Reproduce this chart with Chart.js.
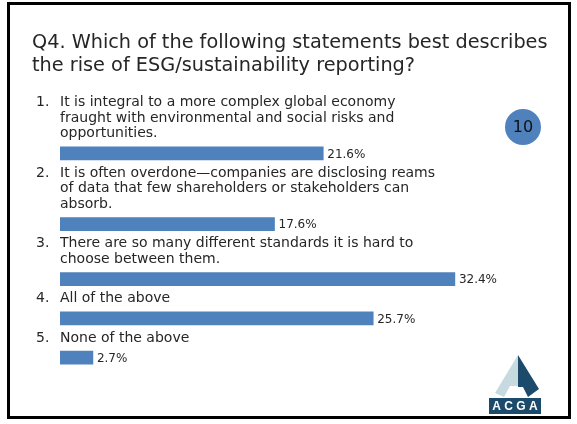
<!DOCTYPE html>
<html>
<head>
<meta charset="utf-8">
<script src="https://cdn.jsdelivr.net/npm/chart.js"></script>
<style>
  html, body { margin: 0; padding: 0; background: #fff; }
  #wrap { width: 577px; height: 424px; }
</style>
</head>
<body>
<div id="wrap"><canvas id="esgChart" width="577" height="424"></canvas></div>
<script>
(function(){
  const question = ['Q4. Which of the following statements best describes', 'the rise of ESG/sustainability reporting?'];
  const answers = [
    ['It is integral to a more complex global economy', 'fraught with environmental and social risks and', 'opportunities.'],
    ['It is often overdone\u2014companies are disclosing reams', 'of data that few shareholders or stakeholders can', 'absorb.'],
    ['There are so many different standards it is hard to', 'choose between them.'],
    ['All of the above'],
    ['None of the above']
  ];
  const shares = [21.6, 17.6, 32.4, 25.7, 2.7];
  const respondents = '10';

  const blue = '#4F81BD';
  const navy = '#1B4A6B';
  const ink = '#262626';
  const face = '"DejaVu Sans", sans-serif';

  // every answer gets one row per text line, then its bar a little below
  const GAP = 1.25;
  const rows = [];
  let pos = 0;
  answers.forEach(lines => {
    rows.push({ first: pos, bar: pos + lines.length - 1 + GAP });
    pos += lines.length - 1 + 2 * GAP;
  });
  const points = shares.map((v, i) => ({ x: v, y: rows[i].bar }));

  const slide = {
    id: 'slide',
    afterDatasetsDraw(chart){
      const ctx = chart.ctx, y = chart.scales.y, area = chart.chartArea;
      const bars = chart.getDatasetMeta(0).data;
      ctx.save();
      ctx.fillStyle = ink;
      ctx.textBaseline = 'middle';
      ctx.textAlign = 'left';
      answers.forEach((lines, i) => {
        ctx.font = '14px ' + face;
        ctx.fillText((i + 1) + '.', area.left - 24, y.getPixelForValue(rows[i].first));
        lines.forEach((t, k) => ctx.fillText(t, area.left, y.getPixelForValue(rows[i].first + k)));
        const b = bars[i];
        ctx.font = '12px ' + face;
        ctx.fillText(shares[i].toFixed(1) + '%', b.x + 4, b.y + 1);
      });

      // respondent count badge
      ctx.fillStyle = blue;
      ctx.beginPath();
      ctx.arc(523, 127, 18, 0, Math.PI * 2);
      ctx.fill();
      ctx.fillStyle = '#111';
      ctx.textAlign = 'center';
      ctx.font = '16px ' + face;
      ctx.fillText(respondents, 523, 128);
      ctx.restore();
    },
    afterDraw(chart){
      const ctx = chart.ctx;
      ctx.save();
      // slide frame
      ctx.strokeStyle = '#000';
      ctx.lineWidth = 3;
      ctx.strokeRect(8.5, 3.5, 561, 414);

      // ACGA logo: light left face, dark right face, name plate
      ctx.fillStyle = '#C7DADF';
      ctx.beginPath();
      ctx.moveTo(518, 355); ctx.lineTo(495, 393); ctx.lineTo(504, 397);
      ctx.lineTo(510, 386); ctx.lineTo(518, 386);
      ctx.closePath(); ctx.fill();
      ctx.fillStyle = navy;
      ctx.beginPath();
      ctx.moveTo(518, 355); ctx.lineTo(539, 389); ctx.lineTo(528, 397);
      ctx.lineTo(523, 387); ctx.lineTo(518, 387);
      ctx.closePath(); ctx.fill();
      ctx.fillRect(489, 398, 52, 16);
      ctx.fillStyle = '#fff';
      ctx.font = 'bold 12px "Liberation Sans", Arial, sans-serif';
      ctx.textAlign = 'center';
      ctx.textBaseline = 'middle';
      ctx.fillText('A C G A', 515, 406.5);
      ctx.restore();
    }
  };

  new Chart(document.getElementById('esgChart'), {
    type: 'bar',
    data: {
      datasets: [{
        data: points,
        backgroundColor: blue,
        barThickness: 13,
        borderWidth: 0
      }]
    },
    options: {
      indexAxis: 'y',
      responsive: false,
      animation: false,
      layout: { padding: { left: 32, right: 29.5, top: 0, bottom: 31 } },
      plugins: {
        legend: { display: false },
        tooltip: { enabled: false },
        title: {
          display: true,
          text: question,
          align: 'start',
          color: ink,
          font: { family: face, size: 19.3, weight: 'normal', lineHeight: 1.2 },
          padding: { top: 31, bottom: 1.5 }
        }
      },
      scales: {
        x: { type: 'linear', min: 0, max: 40, display: false },
        y: {
          type: 'linear', reverse: true, min: -1.5, max: 18.5, offset: false,
          ticks: { display: false }, grid: { display: false }, border: { display: false },
          afterFit(s){ s.width = 28; }
        }
      }
    },
    plugins: [slide]
  });
})();
</script>
</body>
</html>
